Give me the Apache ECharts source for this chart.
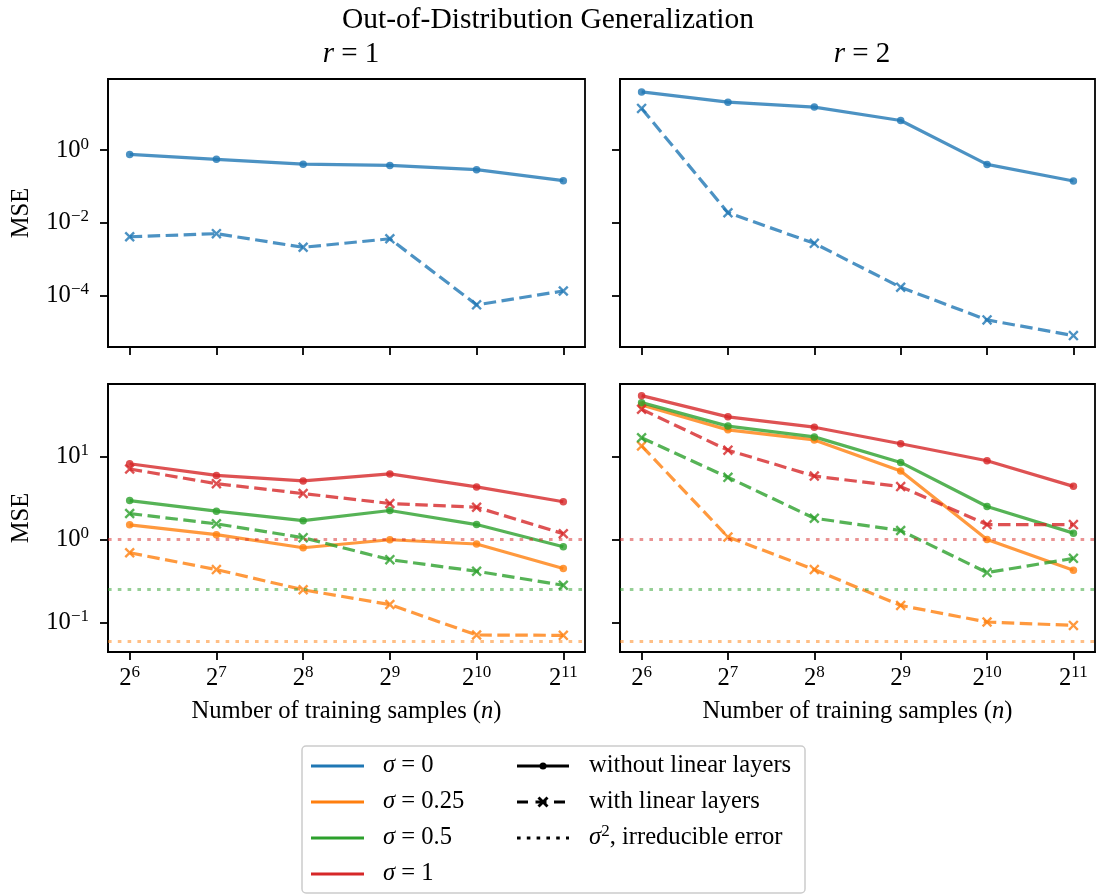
<!DOCTYPE html>
<html>
<head>
<meta charset="utf-8">
<script src="https://cdn.jsdelivr.net/npm/echarts@6/dist/echarts.min.js"></script>
<style>
html, body { margin: 0; padding: 0; background: #fff; }
#container { width: 1096px; height: 895px; }
</style>
</head>
<body>
<div id="container"></div>
<script>
// training set sizes (x axis, log base 2)
const samples = [64, 128, 256, 512, 1024, 2048];
const yTicksTop = [1e-4, 1e-2, 1];
const yTicksBottom = [0.1, 1, 10];
const sigmaNames = ['0', '0.25', '0.5', '1'];
// sigma^2, irreducible error for sigma = 0.25, 0.5, 1
const irreducible = [0.0625, 0.25, 1];

// r = 1, sigma = 0
const r1_s0_without = [0.76, 0.56, 0.41, 0.38, 0.29, 0.145];
const r1_s0_with = [4.2e-3, 5.1e-3, 2.16e-3, 3.7e-3, 5.7e-5, 1.37e-4];
// r = 2, sigma = 0
const r2_s0_without = [39.5, 20.6, 15.1, 6.5, 0.405, 0.142];
const r2_s0_with = [13.9, 0.0192, 2.77e-3, 1.73e-4, 2.2e-5, 8.2e-6];

// r = 1, noisy
const r1_s025_without = [1.5, 1.14, 0.794, 0.99, 0.88, 0.445];
const r1_s025_with = [0.69, 0.433, 0.247, 0.164, 0.0705, 0.0698];
const r1_s05_without = [2.94, 2.19, 1.68, 2.23, 1.51, 0.817];
const r1_s05_with = [2.05, 1.54, 1.05, 0.57, 0.413, 0.28];
const r1_s1_without = [8.17, 5.91, 5.07, 6.15, 4.29, 2.84];
const r1_s1_with = [7.06, 4.7, 3.57, 2.71, 2.44, 1.17];

// r = 2, noisy
const r2_s025_without = [41.7, 20.9, 15.8, 6.67, 1.0, 0.425];
const r2_s025_with = [13.4, 1.07, 0.433, 0.16, 0.101, 0.092];
const r2_s05_without = [44.5, 23.2, 17.2, 8.47, 2.49, 1.19];
const r2_s05_with = [16.8, 5.6, 1.8, 1.28, 0.398, 0.591];
const r2_s1_without = [54, 30, 22.5, 14.2, 8.87, 4.36];
const r2_s1_with = [37, 11.9, 5.8, 4.33, 1.51, 1.51];

const BLUE = '#1f77b4';
const ORANGE = '#ff7f0e';
const GREEN = '#2ca02c';
const RED = '#d62728';
const FONT = '"Liberation Serif", "DejaVu Serif", serif';
const FS = 24.6;
const LW = 3.2;
const DASH = [12.5, 5.5];
const DOT = [3.6, 6.2];
const X_SYMBOL = 'path://M0,1.6 L1.6,0 L5,3.4 L8.4,0 L10,1.6 L6.6,5 L10,8.4 L8.4,10 L5,6.6 L1.6,10 L0,8.4 L3.4,5 Z';

const supRich = {
    b: { fontFamily: FONT, fontSize: FS, color: '#000' },
    s: { fontFamily: FONT, fontSize: 17, color: '#000', padding: [0, 0, 12, 0] }
};

function expText(base, e) {
    let s = String(e).replace('-', '\u2212');
    return '{b|' + base + '}{s|' + s + '}';
}

function makeX(gi, showLabels) {
    return {
        type: 'log',
        logBase: 2,
        gridIndex: gi,
        min: Math.pow(2, 5.75),
        max: Math.pow(2, 11.25),
        axisLine: { show: true, lineStyle: { color: '#000', width: 1.8 } },
        axisTick: { show: true, length: 8, lineStyle: { color: '#000', width: 1.8 }, customValues: samples },
        axisLabel: {
            show: showLabels,
            customValues: samples,
            margin: 12,
            formatter: function (v) { return expText('2', Math.round(Math.log2(v))); },
            rich: supRich
        },
        minorTick: { show: false },
        splitLine: { show: false },
        name: showLabels ? 'Number of training samples ({i|n})' : '',
        nameLocation: 'middle',
        nameGap: 47,
        nameTextStyle: {
            fontFamily: FONT, fontSize: FS, color: '#000',
            rich: { i: { fontFamily: FONT, fontSize: FS, fontStyle: 'italic', color: '#000' } }
        }
    };
}

function makeY(gi, top, showLabels) {
    const ticks = top ? yTicksTop : yTicksBottom;
    return {
        type: 'log',
        logBase: 10,
        gridIndex: gi,
        min: top ? Math.pow(10, -5.4) : Math.pow(10, -1.357),
        max: top ? Math.pow(10, 1.95) : Math.pow(10, 1.873),
        axisLine: { show: true, lineStyle: { color: '#000', width: 1.8 } },
        axisTick: { show: true, length: 8, lineStyle: { color: '#000', width: 1.8 }, customValues: ticks },
        axisLabel: {
            show: showLabels,
            customValues: ticks,
            margin: 19,
            formatter: function (v) { return expText('10', Math.round(Math.log10(v))); },
            rich: supRich
        },
        minorTick: { show: false },
        splitLine: { show: false },
        name: showLabels ? 'MSE' : '',
        nameLocation: 'middle',
        nameRotate: 90,
        nameGap: 74,
        nameTextStyle: { fontFamily: FONT, fontSize: FS, color: '#000' }
    };
}

function makeLine(gi, values, color, dashed) {
    return {
        type: 'line',
        xAxisIndex: gi,
        yAxisIndex: gi,
        data: samples.map(function (x, i) { return [x, values[i]]; }),
        symbol: dashed ? X_SYMBOL : 'circle',
        symbolSize: dashed ? 10.5 : 7.5,
        showAllSymbol: true,
        lineStyle: { color: color, width: LW, type: dashed ? DASH : 'solid', opacity: 0.8 },
        itemStyle: { color: color, opacity: 0.8, borderWidth: 0 },
        silent: true
    };
}

function withFloor(series, level, color) {
    series.markLine = {
        symbol: 'none',
        silent: true,
        label: { show: false },
        lineStyle: { color: color, type: DOT, width: LW, opacity: 0.5 },
        data: [{ yAxis: level }]
    };
    return series;
}

const grids = [
    { left: 108, top: 79, width: 477, height: 268 },
    { left: 620, top: 79, width: 475, height: 268 },
    { left: 108, top: 384, width: 477, height: 268 },
    { left: 620, top: 384, width: 475, height: 268 }
].map(function (g) {
    return Object.assign({ show: true, borderColor: '#000', borderWidth: 1.8, backgroundColor: 'transparent' }, g);
});

let seriesInOption = [
    makeLine(0, r1_s0_without, BLUE, false),
    makeLine(0, r1_s0_with, BLUE, true),
    makeLine(1, r2_s0_without, BLUE, false),
    makeLine(1, r2_s0_with, BLUE, true),

    withFloor(makeLine(2, r1_s025_without, ORANGE, false), irreducible[0], ORANGE),
    makeLine(2, r1_s025_with, ORANGE, true),
    withFloor(makeLine(2, r1_s05_without, GREEN, false), irreducible[1], GREEN),
    makeLine(2, r1_s05_with, GREEN, true),
    withFloor(makeLine(2, r1_s1_without, RED, false), irreducible[2], RED),
    makeLine(2, r1_s1_with, RED, true),

    withFloor(makeLine(3, r2_s025_without, ORANGE, false), irreducible[0], ORANGE),
    makeLine(3, r2_s025_with, ORANGE, true),
    withFloor(makeLine(3, r2_s05_without, GREEN, false), irreducible[1], GREEN),
    makeLine(3, r2_s05_with, GREEN, true),
    withFloor(makeLine(3, r2_s1_without, RED, false), irreducible[2], RED),
    makeLine(3, r2_s1_with, RED, true)
];

// legend drawn by hand (matplotlib style box)
const legendColors = [BLUE, ORANGE, GREEN, RED];
const rowY = [766, 802, 838, 874];
const legendText = { fontFamily: FONT, fontSize: FS, fill: '#000', verticalAlign: 'middle' };
const legendRich = {
    i: { fontFamily: FONT, fontSize: FS, fontStyle: 'italic', fill: '#000' },
    s: { fontFamily: FONT, fontSize: 17, fill: '#000', padding: [0, 0, 12, 0] }
};
let legendItems = [{
    type: 'rect',
    shape: { x: 302, y: 746, width: 503, height: 147, r: 4 },
    style: { fill: '#fff', stroke: '#cccccc', lineWidth: 1.5 }
}];
legendColors.forEach(function (c, i) {
    legendItems.push({
        type: 'line',
        shape: { x1: 311, y1: rowY[i], x2: 364, y2: rowY[i] },
        style: { stroke: c, lineWidth: LW }
    });
    legendItems.push({
        type: 'text',
        x: 383, y: rowY[i],
        style: Object.assign({ text: '{i|σ} = ' + sigmaNames[i], rich: legendRich }, legendText)
    });
});
legendItems.push(
    { type: 'line', shape: { x1: 517, y1: rowY[0], x2: 569, y2: rowY[0] }, style: { stroke: '#000', lineWidth: LW } },
    { type: 'circle', shape: { cx: 543, cy: rowY[0], r: 3.5 }, style: { fill: '#000' } },
    { type: 'line', shape: { x1: 517, y1: rowY[1], x2: 569, y2: rowY[1] }, style: { stroke: '#000', lineWidth: LW, lineDash: [11, 7.5] } },
    { type: 'line', shape: { x1: 538.5, y1: rowY[1] - 4.5, x2: 547.5, y2: rowY[1] + 4.5 }, style: { stroke: '#000', lineWidth: 2.8 } },
    { type: 'line', shape: { x1: 538.5, y1: rowY[1] + 4.5, x2: 547.5, y2: rowY[1] - 4.5 }, style: { stroke: '#000', lineWidth: 2.8 } },
    { type: 'line', shape: { x1: 517, y1: rowY[2], x2: 569, y2: rowY[2] }, style: { stroke: '#000', lineWidth: LW, lineDash: DOT } },
    { type: 'text', x: 589, y: rowY[0], style: Object.assign({ text: 'without linear layers' }, legendText) },
    { type: 'text', x: 589, y: rowY[1], style: Object.assign({ text: 'with linear layers' }, legendText) },
    { type: 'text', x: 589, y: rowY[2], style: Object.assign({ text: '{i|σ}{s|2}, irreducible error', rich: legendRich }, legendText) }
);

const subtitleStyle = {
    fontFamily: FONT, fontSize: 29, fontWeight: 'normal', color: '#000',
    rich: { i: { fontFamily: FONT, fontSize: 29, fontStyle: 'italic', color: '#000' } }
};

let dom = document.getElementById('container');
let myChart = echarts.init(dom, null, { renderer: 'canvas' });
let option = {
    backgroundColor: '#fff',
    animation: false,
    title: [{
        text: 'Out-of-Distribution Generalization',
        left: 'center',
        top: 0,
        textStyle: { fontFamily: FONT, fontSize: 29.5, fontWeight: 'normal', color: '#000' }
    }, {
        text: '{i|r} = 1',
        left: 346, top: 35,
        textAlign: 'center',
        textStyle: subtitleStyle
    }, {
        text: '{i|r} = 2',
        left: 857, top: 35,
        textAlign: 'center',
        textStyle: subtitleStyle
    }],
    grid: grids,
    xAxis: [makeX(0, false), makeX(1, false), makeX(2, true), makeX(3, true)],
    yAxis: [makeY(0, true, true), makeY(1, true, false), makeY(2, false, true), makeY(3, false, false)],
    series: seriesInOption,
    graphic: legendItems
};
myChart.setOption(option, true);
</script>
</body>
</html>
